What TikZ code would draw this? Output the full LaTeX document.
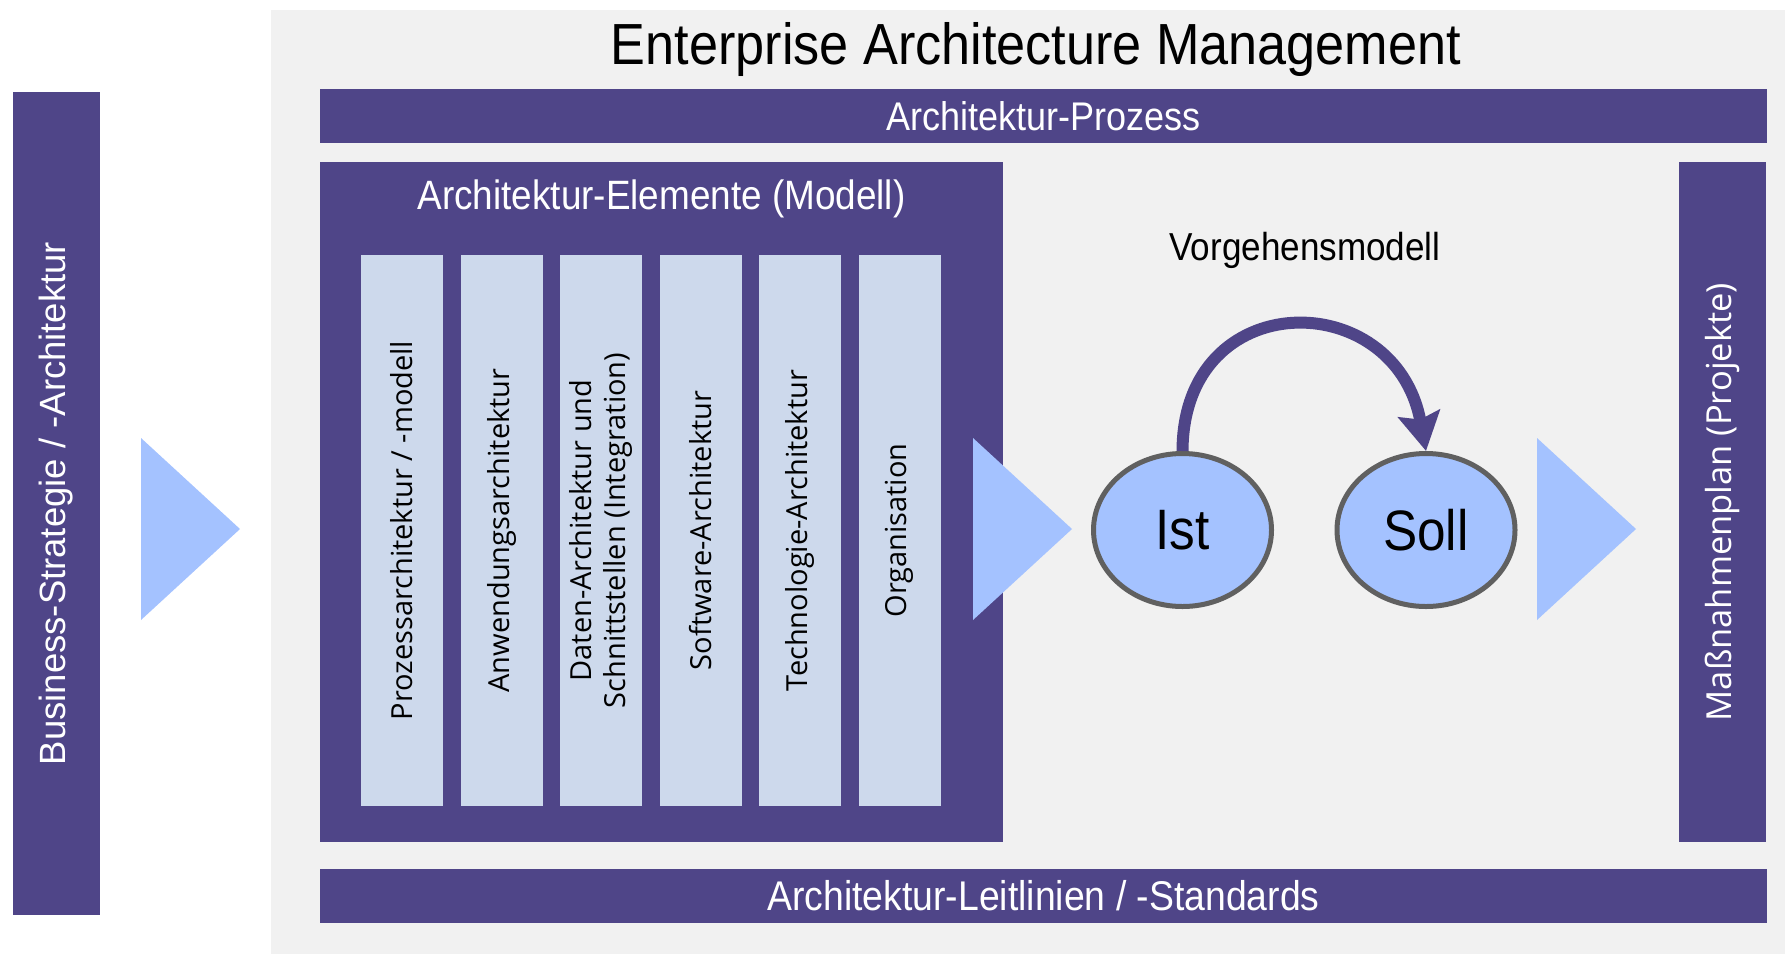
\documentclass[tikz,border=0pt]{standalone}
\usepackage{fontspec}
\setmainfont{Liberation Sans}
\newfontfamily\condfont[FakeStretch=0.9]{Liberation Sans}
\newfontfamily\humfont{Open Sans}
\usetikzlibrary{arrows.meta,shapes.geometric}

\definecolor{eapurple}{HTML}{4F4588}
\definecolor{colblue}{HTML}{CDD9EC}
\definecolor{flowblue}{HTML}{A4C2FF}
\definecolor{panelgrey}{HTML}{F1F1F1}
\definecolor{rimgrey}{HTML}{606060}

\tikzset{
  bar/.style={fill=eapurple, text=white, inner sep=0pt, outer sep=0pt},
  column/.style={fill=colblue, text=black, inner sep=0pt, outer sep=0pt,
    rotate=90, minimum width=551pt, minimum height=82pt, align=center,
    font=\humfont\fontsize{29}{34}\selectfont},
  state/.style={ellipse, fill=flowblue, draw=rimgrey, line width=5pt,
    inner sep=0pt, minimum width=178pt, minimum height=153pt,
    font=\condfont\fontsize{57}{60}\selectfont},
  flow/.style={fill=flowblue},
  cycle arrow/.style={draw=eapurple, line width=12pt,
    -{Stealth[length=38pt,width=42pt,inset=6pt]}},
}

\begin{document}
\begin{tikzpicture}[x=1pt,y=-1pt]
\useasboundingbox (0,0) rectangle (1785,954);

% grey background panel
\node[fill=panelgrey, inner sep=0pt, outer sep=0pt, anchor=north west,
  minimum width=1514pt, minimum height=944pt] (panel) at (271,10) {};

% strategy input bar on the left
\node[bar, rotate=90, minimum width=823pt, minimum height=87.5pt,
  font=\fontsize{36.5}{40}\selectfont] (strategy) at (56.25,503.5)
  {Business-Strategie / -Architektur};

% title
\node[font=\condfont\fontsize{58}{64}\selectfont, inner sep=0pt] (title)
  at (1036,49) {Enterprise Architecture Management};

% process and guideline bars
\node[bar, anchor=north west, minimum width=1447pt, minimum height=54pt,
  font=\condfont\fontsize{40}{44}\selectfont] (process) at (320,89)
  {Architektur-Prozess};
\node[bar, anchor=north west, minimum width=1447pt, minimum height=54pt,
  font=\condfont\fontsize{41.5}{44}\selectfont] (standards) at (320,869)
  {Architektur-Leitlinien / -Standards};

% architecture elements box
\node[bar, anchor=north west, minimum width=683pt, minimum height=680pt]
  (elements) at (320,162) {};
\node[text=white, font=\condfont\fontsize{41}{44}\selectfont, inner sep=0pt]
  (elementstitle) at (661.5,199) {Architektur-Elemente (Modell)};

\node[column] (c1) at (402.0,530.5) {Prozessarchitektur / -modell};
\node[column] (c2) at (501.5,530.5) {Anwendungsarchitektur};
\node[column] (c3) at (601.0,530.5) {Daten-Architektur und\\Schnittstellen (Integration)};
\node[column] (c4) at (700.5,530.5) {Software-Architektur};
\node[column] (c5) at (800.0,530.5) {Technologie-Architektur};
\node[column] (c6) at (899.5,530.5) {Organisation};

% measures bar on the right
\node[bar, rotate=90, minimum width=680pt, minimum height=87pt,
  font=\humfont\fontsize{34.5}{40}\selectfont] (measures) at (1722.5,502)
  {Maßnahmenplan (Projekte)};

% flow triangles
\fill[flow] (141,438) -- (240,529) -- (141,620) -- cycle;
\fill[flow] (973,438) -- (1072,529) -- (973,620) -- cycle;
\fill[flow] (1537,438) -- (1636,529) -- (1537,620) -- cycle;

% procedure model: current state to target state
\node[font=\condfont\fontsize{39}{44}\selectfont, inner sep=0pt] (procmodel)
  at (1305,250) {Vorgehensmodell};
\node[state] (ist) at (1182.5,530) {Ist};
\node[state] (soll) at (1426,530) {Soll};
\draw[cycle arrow] (ist.north) .. controls (1183,285) and (1395,285) .. (soll.north);
\end{tikzpicture}
\end{document}
